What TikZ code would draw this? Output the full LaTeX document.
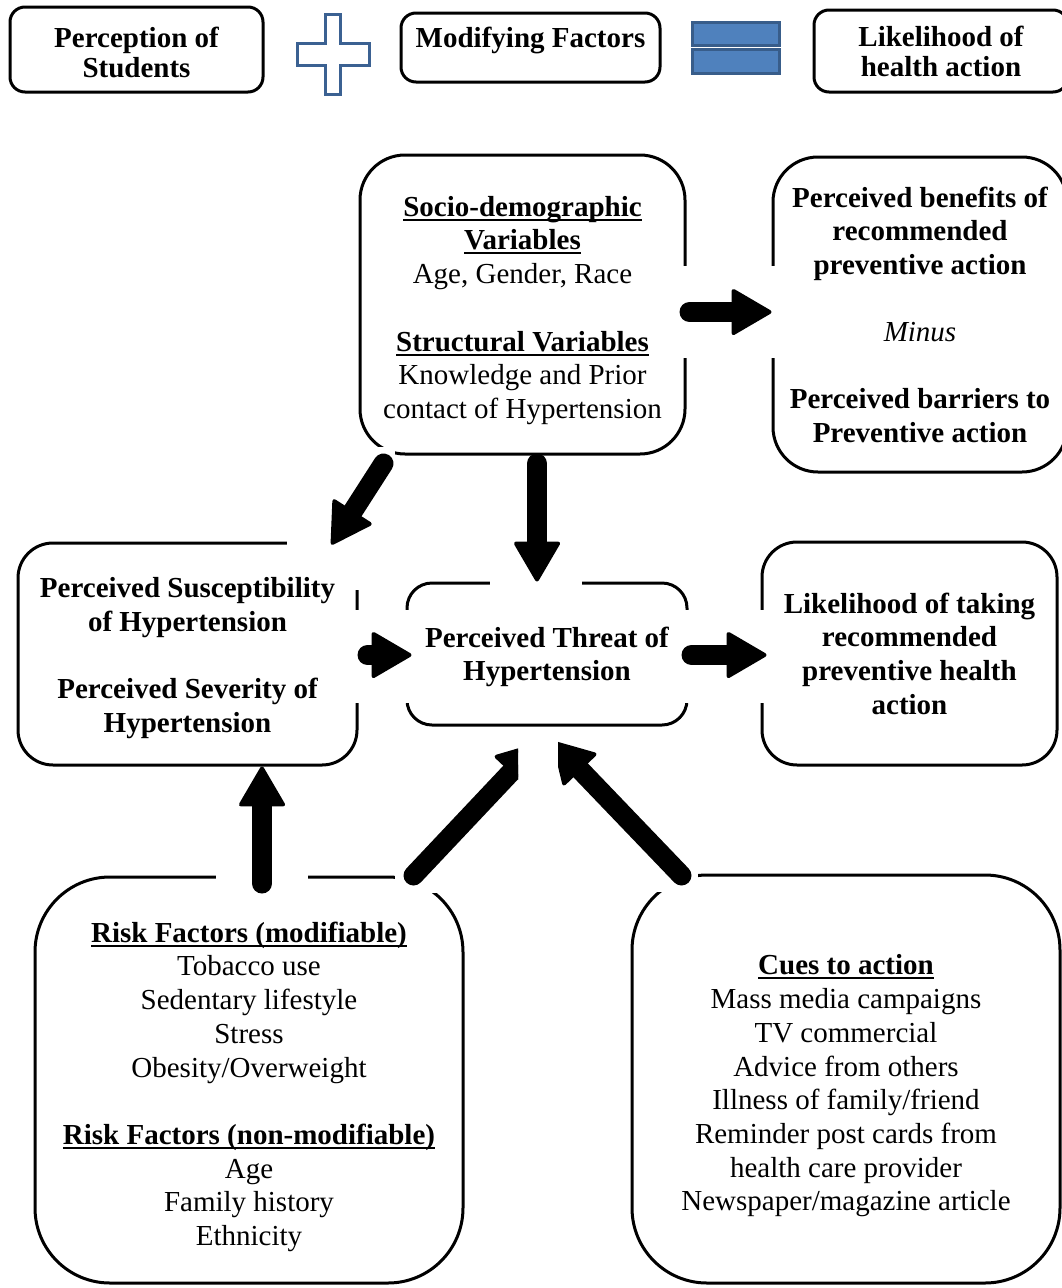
\documentclass[tikz,border=0pt]{standalone}
\usepackage{fontspec}
\setmainfont{Liberation Serif}
\usetikzlibrary{arrows.meta,calc}

\definecolor{eqfill}{HTML}{4F81BD}
\definecolor{eqline}{HTML}{385D8A}
\definecolor{plusline}{HTML}{3B6192}

% bold heading with a firm underline
\newcommand\ulbf[1]{\textbf{\setbox0\hbox{#1}\rlap{\rule[-4.5pt]{\wd0}{2pt}}\box0}}
% pushes the text of a box down a little
\newcommand\lowr[1]{\rule{0pt}{#1}}

\tikzset{
  box/.style={draw, line width=3pt, align=center, inner sep=0pt,
    font=\fontsize{29}{33.7}\selectfont},
  heading/.style={font=\fontsize{29}{33.7}\selectfont\bfseries},
  topbox/.style={box, rounded corners=15pt, font=\fontsize{29}{30}\selectfont\bfseries},
  fatarrow/.style={line width=20pt, line cap=round,
    -{Triangle[length=42pt, width=48pt, round, line width=4pt]}},
}

\begin{document}
\begin{tikzpicture}[x=1pt, y=-1pt]
    \useasboundingbox (0,0) rectangle (1062,1288);

    % Top line: perception + modifying factors = likelihood
    \node[topbox, minimum width=253pt, minimum height=85pt] (percep) at (136.5,49.5) {\lowr{26pt}Perception of\\Students};
    \node[topbox, minimum width=259pt, minimum height=69pt] (modif) at (530.5,47.5) {Modifying Factors\\[-18pt]\strut};
    \node[topbox, minimum width=254pt, minimum height=82pt] (likelitop) at (941,51) {\lowr{22pt}Likelihood of\\health action};

    \draw[plusline, line width=3pt, fill=white] (325,14) -- (340,14) -- (340,43) -- (369,43) -- (369,65)
        -- (340,65) -- (340,94) -- (325,94) -- (325,65) -- (297,65) -- (297,43) -- (325,43) -- cycle;
    \draw[eqline, line width=3pt, fill=eqfill] (692,22) rectangle (779,45);
    \draw[eqline, line width=3pt, fill=eqfill] (692,49) rectangle (779,73);

    % Modifying factors
    \node[box, rounded corners=45pt, minimum width=325pt, minimum height=299pt] (socio) at (522.5,304.5)
        {\lowr{32pt}\ulbf{Socio-demographic}\\\ulbf{Variables}\\Age, Gender, Race\\[33.7pt]
         \ulbf{Structural Variables}\\Knowledge and Prior\\contact of Hypertension};
    \node[box, heading, rounded corners=45pt, minimum width=294pt, minimum height=315pt] (benefits) at (920,314.5)
        {Perceived benefits of\\recommended\\preventive action\\[33.3pt]{\mdseries\itshape Minus}\\[33.3pt]
         Perceived barriers to\\Preventive action};

    % Perceptions and threat
    \node[box, heading, rounded corners=35pt, minimum width=339pt, minimum height=222pt] (susc) at (187.5,654)
        {\lowr{28pt}Perceived Susceptibility\\of Hypertension\\[33.7pt]Perceived Severity of\\Hypertension};
    \node[box, heading, rounded corners=25pt, minimum width=280pt, minimum height=142pt] (threat) at (547,654)
        {\lowr{26pt}Perceived Threat of\\Hypertension};
    \node[box, heading, rounded corners=35pt, minimum width=295pt, minimum height=223pt] (likeli) at (909.5,653.5)
        {Likelihood of taking\\recommended\\preventive health\\action};

    % Risk factors and cues
    \node[box, rounded corners=75pt, minimum width=428pt, minimum height=406pt] (risk) at (249,1080)
        {\lowr{34pt}\ulbf{Risk Factors (modifiable)}\\Tobacco use\\Sedentary lifestyle\\Stress\\Obesity/Overweight\\[33.7pt]
         \ulbf{Risk Factors (non-modifiable)}\\Age\\Family history\\Ethnicity};
    \node[box, rounded corners=75pt, minimum width=428pt, minimum height=408pt] (cues) at (846,1079)
        {\lowr{34pt}\ulbf{Cues to action}\\Mass media campaigns\\TV commercial\\Advice from others\\Illness of family/friend\\
         Reminder post cards from\\health care provider\\Newspaper/magazine article};

    % Arrows (each one sits on a white patch)
    \fill[white] (670,266) rectangle (780,358);
    \draw[fatarrow] ($(socio.east)+(3,7.5)$) -- ($(benefits.west)+(0,-2.5)$);

    \fill[white] (287,447) rectangle (395,565);
    \fill[white] (342,447) rectangle (395,590);
    \draw[fatarrow] ($(socio.south west)+(25,8)$) -- ($(susc.north east)+(-27,3)$);

    \coordinate (st) at ($(socio.south)+(14.5,8)$);
    \fill[white] (490,456) rectangle (582,586);
    \draw[fatarrow] (st) -- (st |- threat.north);

    \fill[white] (352,610) rectangle (418,703);
    \draw[fatarrow] ($(susc.east)+(9,1)$) -- ($(threat.west)+(6,1)$);

    \fill[white] (675,610) rectangle (770,703);
    \draw[fatarrow] ($(threat.east)+(3,1)$) -- ($(likeli.west)+(6,1.5)$);

    \coordinate (rs) at ($(risk.north)+(13,8)$);
    \fill[white] (216,767) rectangle (308,880);
    \draw[fatarrow] (rs) -- (rs |- susc.south);

    \begin{scope}
        \clip (395,735) rectangle (518,893);
        \fill[white] (395,735) rectangle (518,893);
        \draw[fatarrow] ($(risk.north east)+(-51,0)$) -- ($(threat.south)+(-9,17)$);
    \end{scope}

    \begin{scope}
        \clip (558,735) rectangle (698,892);
        \fill[white] (558,735) rectangle (698,892);
        \draw[fatarrow] ($(cues.north west)+(51,2)$) -- ($(threat.south)+(6,15)$);
    \end{scope}
\end{tikzpicture}
\end{document}
